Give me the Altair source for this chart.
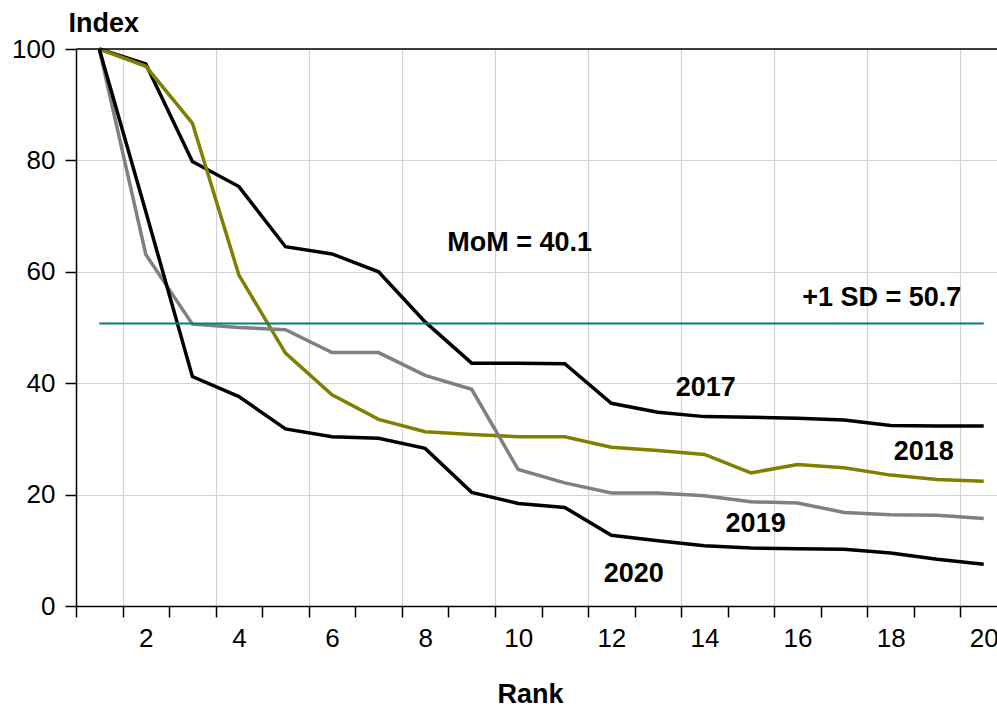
import altair as alt
import pandas as pd

# Concentration index by rank, one series per year
ranks = list(range(1, 21))
idx_2017 = [100, 97.3, 79.8, 75.3, 64.5, 63.2, 60.0, 51.0, 43.6, 43.6,
            43.5, 36.4, 34.8, 34.0, 33.9, 33.7, 33.4, 32.4, 32.3, 32.3]
idx_2018 = [100, 96.9, 86.7, 59.4, 45.4, 37.9, 33.5, 31.3, 30.8, 30.4,
            30.4, 28.5, 27.9, 27.2, 23.9, 25.4, 24.8, 23.5, 22.7, 22.4]
idx_2019 = [100, 63.1, 50.6, 50.0, 49.6, 45.5, 45.5, 41.4, 38.9, 24.5,
            22.1, 20.3, 20.3, 19.8, 18.7, 18.5, 16.8, 16.4, 16.3, 15.7]
idx_2020 = [100, 70.8, 41.2, 37.6, 31.8, 30.4, 30.1, 28.3, 20.4, 18.4,
            17.7, 12.7, 11.7, 10.8, 10.4, 10.3, 10.2, 9.5, 8.4, 7.5]

years = ["2017", "2018", "2019", "2020"]
series = [idx_2017, idx_2018, idx_2019, idx_2020]
year_colors = ["#000000", "#808000", "#808080", "#000000"]

mom_value = 40.1
sd_value = 50.7

FONT = "Liberation Sans"

rows = []
for yr, vals in zip(years, series):
    for r, v in zip(ranks, vals):
        rows.append({"rank": r, "value": v, "year": yr})
lines_df = pd.DataFrame(rows)

# Ticks sit between ranks; gridlines on every other boundary, labels on even ranks
tick_values = [k + 0.5 for k in range(0, 20)]

x_scale = alt.Scale(domain=[0.5, 20.285], nice=False, zero=False)
y_scale = alt.Scale(domain=[0, 100], nice=False, zero=True)

x_axis = alt.Axis(
    values=tick_values,
    title="Rank",
    titleFont=FONT, titleFontSize=27, titleFontWeight="bold", titleColor="black",
    titleX=454, titleY=96, titleAlign="center", titleBaseline="alphabetic",
    labelExpr="(datum.value % 2) == 1.5 ? format(datum.value + 0.5, 'd') : ''",
    labelOffset=23.3, labelFont=FONT, labelFontSize=26, labelColor="black",
    labelPadding=8, labelOverlap=False, labelBound=False, labelFlush=False,
    tickSize=11, tickColor="black", tickWidth=1.5,
    domainColor="black", domainWidth=1.5,
    grid=True, gridColor="#d3d3d3", gridWidth=1.2,
    gridOpacity=alt.condition("(datum.value % 2) == 1.5", alt.value(1), alt.value(0)),
)

y_axis = alt.Axis(
    values=[0, 20, 40, 60, 80, 100],
    title="Index",
    titleFont=FONT, titleFontSize=27, titleFontWeight="bold", titleColor="black",
    titleAngle=0, titleAlign="left", titleBaseline="alphabetic",
    titleX=-8, titleY=-18,
    labelFont=FONT, labelFontSize=26, labelColor="black", labelPadding=10,
    tickSize=11, tickColor="black", tickWidth=1.5,
    domainColor="black", domainWidth=1.5,
    grid=True, gridColor="#d3d3d3", gridWidth=1.2,
)


def xenc(field="rank"):
    return alt.X(f"{field}:Q", scale=x_scale, axis=x_axis)


def yenc(field="value"):
    return alt.Y(f"{field}:Q", scale=y_scale, axis=y_axis)


lines = alt.Chart(lines_df).mark_line(strokeWidth=3.5, strokeJoin="miter").encode(
    x=xenc(),
    y=yenc(),
    color=alt.Color("year:N", scale=alt.Scale(domain=years, range=year_colors), legend=None),
)

# +1 standard deviation reference level
sd_df = pd.DataFrame({"rank": [ranks[0]], "rank_end": [ranks[-1]], "value": [sd_value]})
sd_rule = alt.Chart(sd_df).mark_rule(color="#008080", strokeWidth=2).encode(
    x=xenc(), x2="rank_end:Q", y=yenc()
)

# frame line along the top of the plot
top_df = pd.DataFrame({"value": [100]})
top_rule = alt.Chart(top_df).mark_rule(color="black", strokeWidth=1.5).encode(y=yenc())

# text annotations
ann_labels = [f"MoM = {mom_value}", f"+1 SD = {sd_value}", "2017", "2018", "2019", "2020"]
ann_x = [10.03, 17.81, 14.03, 18.71, 15.10, 12.48]
ann_y = [63.8, 53.9, 37.7, 26.2, 13.3, 4.3]
ann_df = pd.DataFrame({"rank": ann_x, "value": ann_y, "label": ann_labels})
ann = alt.Chart(ann_df).mark_text(
    font=FONT, fontSize=27, fontWeight="bold", color="black",
    align="center", baseline="alphabetic",
).encode(x=xenc(), y=yenc(), text="label:N")

chart = alt.layer(lines, top_rule, sd_rule, ann).properties(
    width=921,
    height=557,
    autosize=alt.AutoSizeParams(type="none"),
    padding={"left": 76, "top": 49, "right": 0, "bottom": 100},
    background="white",
).configure_view(stroke=None)

chart.save("out.html", embed_options={"renderer": "svg", "actions": False})
